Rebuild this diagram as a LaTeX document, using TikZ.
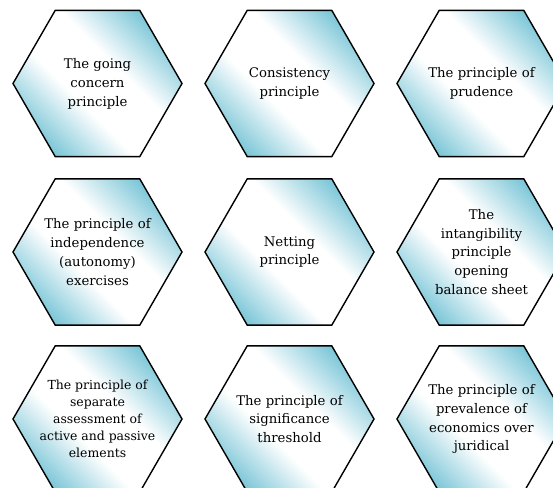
\documentclass[tikz,border=0pt]{standalone}
\usepackage{fontspec}
\setmainfont{DejaVu Serif}
\usetikzlibrary{shapes.geometric}
\definecolor{hexblue}{RGB}{105,190,210}
\pgfdeclareverticalshading{hexshade}{100bp}{color(0bp)=(hexblue); color(22bp)=(hexblue);
  color(42bp)=(white); color(58bp)=(white); color(78bp)=(hexblue); color(100bp)=(hexblue)}

\begin{document}
\begin{tikzpicture}[x=1bp,y=1bp,
  hexa/.style={regular polygon, regular polygon sides=6, minimum size=169bp, inner sep=0pt,
    draw=black, line width=1.4bp, shading=hexshade, shading angle=-45},
  txt/.style={align=center, inner sep=0pt, font=\fontsize{13.3}{19}\selectfont}]
  \useasboundingbox (0,0) rectangle (553,488);
  % first row
  \node [hexa] (going) at (97.5,404.5) {};
  \node [txt] (going-t) at (going) {The going\\concern\\principle};
  \node [hexa] (consist) at (289.5,404.5) {};
  \node [txt] (consist-t) at (consist) {Consistency\\principle};
  \node [hexa] (prudence) at (481.5,404.5) {};
  \node [txt] (prudence-t) at (prudence) {The principle of\\prudence};
  % second row
  \node [hexa] (indep) at (97.5,236) {};
  \node [txt] (indep-t) at (indep) {The principle of\\independence\\(autonomy)\\exercises};
  \node [hexa] (netting) at (289.5,236) {};
  \node [txt] (netting-t) at (netting) {Netting\\principle};
  \node [hexa] (intang) at (481.5,236) {};
  \node [txt] (intang-t) at (intang) {The\\intangibility\\principle\\opening\\balance sheet};
  % third row
  \node [hexa] (separate) at (97.5,69) {};
  \node [txt, font=\fontsize{12.5}{17}\selectfont] (separate-t) at (separate) {The principle of\\separate\\assessment of\\active and passive\\elements};
  \node [hexa] (signif) at (289.5,69) {};
  \node [txt] (signif-t) at (signif) {The principle of\\significance\\threshold};
  \node [hexa] (preval) at (481.5,69) {};
  \node [txt] (preval-t) at (preval) {The principle of\\prevalence of\\economics over\\juridical};
\end{tikzpicture}
\end{document}
